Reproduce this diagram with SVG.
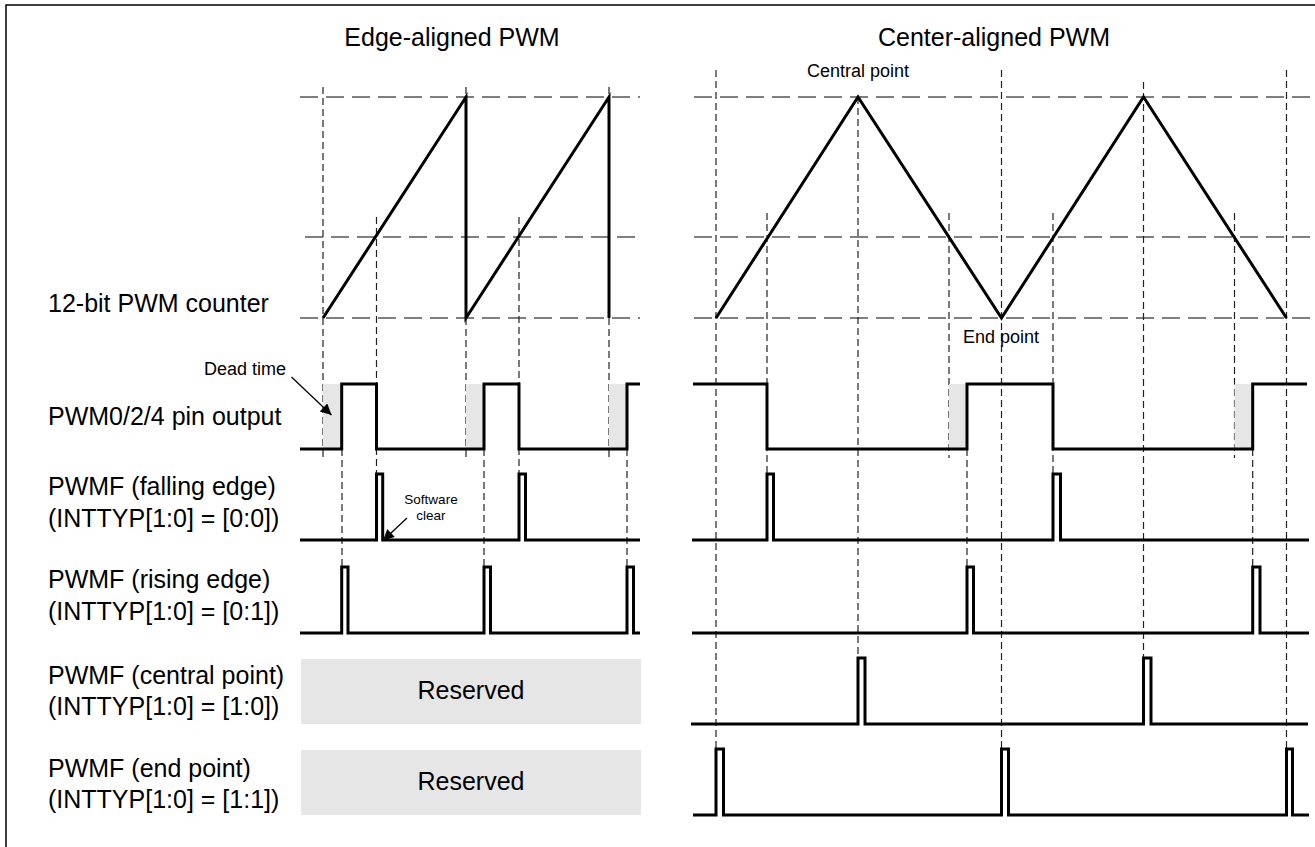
<svg xmlns="http://www.w3.org/2000/svg" width="1315" height="847" viewBox="0 0 1315 847">
<style>
.lbl{font-family:"Liberation Sans",Arial,sans-serif;font-size:25px;fill:#000}
.sm{font-family:"Liberation Sans",Arial,sans-serif;font-size:18px;fill:#000}
.xs{font-family:"Liberation Sans",Arial,sans-serif;font-size:13.5px;fill:#000}
.hd{stroke:#555;stroke-width:1.5;stroke-dasharray:18 8;fill:none}
.vd{stroke:#222;stroke-width:1.2;stroke-dasharray:7 4;fill:none}
.wv{stroke:#000;stroke-width:3;fill:none;stroke-linejoin:miter}
.dead{fill:#e6e6e6}
.res{fill:#e6e6e6}
.arr{stroke:#000;stroke-width:1.3;fill:none}
</style>
<defs>
<marker id="ah" viewBox="0 0 10 10" refX="10" refY="5" markerWidth="12" markerHeight="9" markerUnits="userSpaceOnUse" orient="auto">
<path d="M0,0 L10,5 L0,10 z" fill="#000"/>
</marker>
<marker id="ah2" viewBox="0 0 10 10" refX="10" refY="5" markerWidth="15" markerHeight="11" markerUnits="userSpaceOnUse" orient="auto">
<path d="M0,0 L10,5 L0,10 z" fill="#000"/>
</marker>
</defs>
<rect width="1315" height="847" fill="#fff"/>
<g id="frame"><path d="M6,847 V5 H1315" stroke="#000" stroke-width="1.5" fill="none"/></g>

<g id="titles">
<text class="lbl" x="452" y="46" text-anchor="middle">Edge-aligned PWM</text>
<text class="lbl" x="994" y="46" text-anchor="middle">Center-aligned PWM</text>
</g>

<g id="labels">
<text class="lbl" x="48" y="312">12-bit PWM counter</text>
<text class="lbl" x="48" y="425">PWM0/2/4 pin output</text>
<text class="lbl" x="48" y="495">PWMF (falling edge)</text>
<text class="lbl" x="48" y="527">(INTTYP[1:0] = [0:0])</text>
<text class="lbl" x="48" y="588">PWMF (rising edge)</text>
<text class="lbl" x="48" y="620">(INTTYP[1:0] = [0:1])</text>
<text class="lbl" x="48" y="684">PWMF (central point)</text>
<text class="lbl" x="48" y="715">(INTTYP[1:0] = [1:0])</text>
<text class="lbl" x="48" y="777">PWMF (end point)</text>
<text class="lbl" x="48" y="808">(INTTYP[1:0] = [1:1])</text>
</g>

<g id="grid">
<path class="hd" d="M300,97 H640 M305,237 H640 M300,318 H640"/>
<path class="hd" d="M694,97 H1315 M694,237 H1315 M694,318 H1315"/>
<path class="vd" d="M323,87 V458 M342,449 V567 M376.5,217 V474 M466,87 V458 M484,449 V567 M519,217 V474 M609,87 V458 M627,449 V567"/>
<path class="vd" d="M716,70 V749 M767,213 V475 M858,97 V658 M949,213 V458 M967,449 V567 M1001.5,70 V749 M1053,213 V475 M1143.5,82 V658 M1234.5,213 V458 M1252.7,449 V567 M1286.5,70 V749"/>
</g>

<g id="dead-time">
<rect class="dead" x="323" y="384" width="18.7" height="65"/>
<rect class="dead" x="466" y="384" width="18" height="65"/>
<rect class="dead" x="609" y="384" width="18" height="65"/>
<rect class="dead" x="949" y="384" width="18" height="65"/>
<rect class="dead" x="1234.5" y="384" width="18.2" height="65"/>
</g>

<g id="reserved">
<rect class="res" x="301" y="659" width="340" height="65"/>
<text class="lbl" x="471" y="699" text-anchor="middle">Reserved</text>
<rect class="res" x="301" y="750" width="340" height="65"/>
<text class="lbl" x="471" y="790" text-anchor="middle">Reserved</text>
</g>

<g id="edge-counter"><path class="wv" d="M323,318 L466,97 V318 L609,97 V318"/></g>
<g id="center-counter"><path class="wv" d="M716,318 L858,97 L1001.5,318 L1143.5,97 L1286.5,318"/></g>

<g id="edge-pwm-out"><path class="wv" d="M300,449 H341.7 V384 H376.5 V449 H484 V384 H519 V449 H627 V384 H640"/></g>
<g id="edge-falling"><path class="wv" d="M300,540 H376.5 V474 H382.7 V540 H519 V474 H525.5 V540 H640"/></g>
<g id="edge-rising"><path class="wv" d="M300,633 H341.7 V567 H348 V633 H484 V567 H490.5 V633 H627 V567 H633.5 V633 H640"/></g>

<g id="center-pwm-out"><path class="wv" d="M693,384 H767 V449 H967 V384 H1053 V449 H1252.7 V384 H1307"/></g>
<g id="center-falling"><path class="wv" d="M692,540 H767 V474 H773.5 V540 H1053 V474 H1060.5 V540 H1309"/></g>
<g id="center-rising"><path class="wv" d="M692,633 H967 V567 H973.5 V633 H1252.7 V567 H1260 V633 H1309"/></g>
<g id="center-central"><path class="wv" d="M691,724 H858 V658 H865 V724 H1143.5 V658 H1151 V724 H1308"/></g>
<g id="center-end"><path class="wv" d="M693,815 H716 V749 H723.5 V815 H1001.5 V749 H1008.5 V815 H1286.5 V749 H1292.5 V815 H1309"/></g>

<g id="annotations">
<text class="sm" x="858" y="77" text-anchor="middle">Central point</text>
<text class="sm" x="1001" y="343" text-anchor="middle">End point</text>
<text class="sm" x="286" y="375" text-anchor="end">Dead time</text>
<text class="xs" x="431" y="504" text-anchor="middle">Software</text>
<text class="xs" x="431" y="520" text-anchor="middle">clear</text>
</g>

<g id="connectors">
<line class="arr" x1="291.5" y1="377" x2="331.5" y2="415" marker-end="url(#ah2)"/>
<line class="arr" x1="407" y1="518" x2="383" y2="540.5" marker-end="url(#ah2)"/>
</g>
</svg>
